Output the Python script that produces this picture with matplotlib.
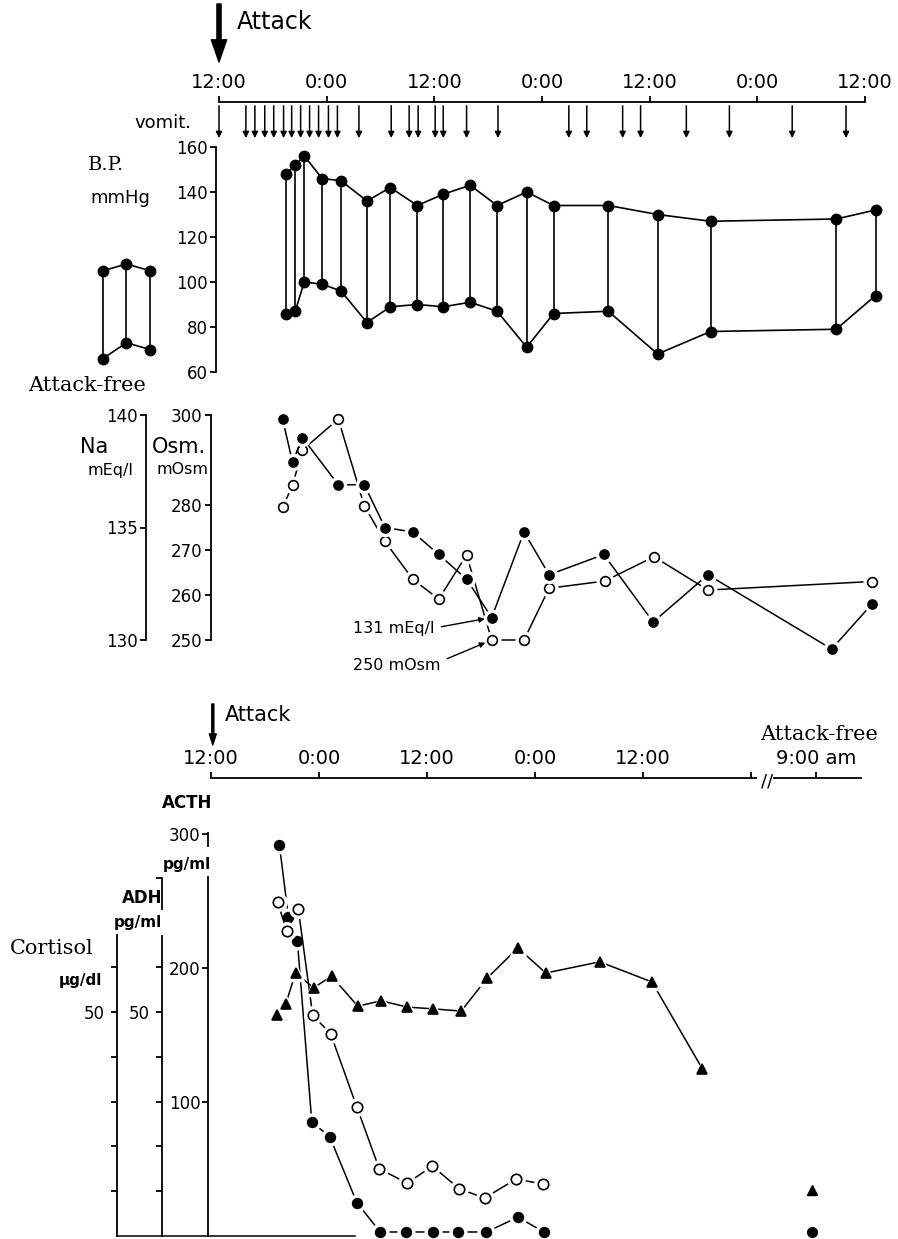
import matplotlib
matplotlib.use('Agg')
import matplotlib.pyplot as plt
import matplotlib.transforms as mtransforms
from matplotlib.lines import Line2D

# ---- data (hours after the attack started at 12:00) ----
vomit_t = [0, 3.0, 4.0, 5.1, 6.1, 7.2, 8.1, 9.1, 10.1, 11.1, 12.2, 13.2, 15.6, 19.2,
           21.2, 22.2, 24.1, 25.0, 27.6, 31.1, 39.0, 41.0, 45.0, 47.0, 52.1, 56.9,
           63.9, 69.9]

bp_t = [7.5, 8.5, 9.5, 11.5, 13.6, 16.5, 19.1, 22.1, 25.0, 28.0, 31.0, 34.3, 37.3,
        43.4, 48.9, 54.8, 68.8, 73.2]
bp_sys = [148, 152, 156, 146, 145, 136, 142, 134, 139, 143, 134, 140, 134, 134, 130,
          127, 128, 132]
bp_dia = [86, 87, 100, 99, 96, 82, 89, 90, 89, 91, 87, 71, 86, 87, 68, 78, 79, 94]
free_sys = [105, 108, 105]
free_dia = [66, 73, 70]

na_t = [7.1, 8.2, 9.3, 13.3, 16.2, 18.5, 21.6, 24.5, 27.6, 30.4, 34.0, 36.8, 42.9,
        48.4, 54.5, 68.3, 72.8]
na = [139.8, 137.9, 139.0, 136.9, 136.9, 135.0, 134.8, 133.8, 132.7, 131.0, 134.8,
      132.9, 133.8, 130.8, 132.9, 129.6, 131.6]
osm_t = [7.1, 8.2, 9.3, 13.3, 16.2, 18.5, 21.6, 24.5, 27.6, 30.4, 34.0, 36.8, 43.0,
         48.5, 54.5, 72.8]
osm = [279.5, 284.4, 292.2, 299.1, 279.8, 271.9, 263.5, 259.1, 268.9, 250, 250,
       261.5, 263.1, 268.5, 261.1, 263]

acth_t = [7.6, 8.6, 9.6, 11.2, 13.2, 16.2, 18.8, 21.7, 24.7, 27.4, 30.6, 34.1, 37.0]
acth = [292, 238, 220, 85, 74, 25, 3, 3, 3, 3, 3, 14, 3]
adh_t = [7.4, 8.4, 9.7, 11.3, 13.3, 16.2, 18.7, 21.8, 24.6, 27.6, 30.4, 33.9, 36.9]
adh = [74.6, 68.1, 73.0, 49.3, 45.1, 28.8, 15.0, 11.8, 15.6, 10.5, 8.5, 12.7, 11.6]
cort_t = [7.3, 8.3, 9.4, 11.4, 13.4, 16.3, 18.9, 21.8, 24.7, 27.8, 30.7, 34.1, 37.2,
          43.2, 49.0, 54.6]
cort = [49.3, 51.8, 58.7, 55.4, 58.0, 51.3, 52.5, 51.1, 50.7, 50.2, 57.6, 64.3, 58.7,
        61.2, 56.7, 37.3]
acth_free = 3
cort_free = 10.3

top_ticks = [0, 12, 24, 36, 48, 60, 72]
top_labels = ['12:00', '0:00', '12:00', '0:00', '12:00', '0:00', '12:00']
bot_labels = ['12:00', '0:00', '12:00', '0:00', '12:00', '', '9:00 am']

# ---- layout ----
W, H = 898, 1239
AF_POS = 67.2           # x position of the attack-free sample on the broken axis
fig = plt.figure(figsize=(W / 100, H / 100), dpi=100)
SERIF = 'DejaVu Serif'
LW = 1.3


def box(x0, y0, x1, y1):
    return [x0 / W, 1 - y1 / H, (x1 - x0) / W, (y1 - y0) / H]


def put(x, y, s, **kw):
    kw.setdefault('va', 'center')
    fig.text(x / W, 1 - y / H, s, **kw)


def time_axes(x0, y0, x1, y1, t0, pxh):
    ax = fig.add_axes(box(x0, y0, x1, y1))
    ax.set_xlim((x0 - t0) / pxh, (x1 - t0) / pxh)
    ax.patch.set_visible(False)
    for s in ax.spines.values():
        s.set_visible(False)
        s.set_linewidth(LW)
    ax.set_xticks([])
    ax.set_yticks([])
    return ax


def left_axis(ax, ticks, labels, pos=None, bounds=None, pad=2):
    ax.spines['left'].set_visible(True)
    if pos is not None:
        ax.spines['left'].set_position(('axes', pos))
    if bounds is not None:
        ax.spines['left'].set_bounds(*bounds)
    ax.yaxis.set_ticks_position('left')
    ax.set_yticks(ticks, labels)
    ax.tick_params(axis='y', direction='out', length=4, width=LW, labelsize=12, pad=pad)


def series(ax, t, v, marker, filled, ms):
    ax.plot(t, v, '-', color='k', lw=1.1, zorder=2, clip_on=False)
    ax.plot(t, v, ls='none', marker=marker, ms=ms + 5, mfc='white', mec='white',
            zorder=3, clip_on=False)
    ax.plot(t, v, ls='none', marker=marker, ms=ms, mfc='k' if filled else 'white',
            mec='k', mew=1.2, zorder=4, clip_on=False)


# ---- top time axis and vomiting ----
axv = time_axes(216, 102, 890, 140, 219, 8.97)
axv.set_ylim(0, 1)
axv.spines['top'].set_visible(True)
axv.spines['top'].set_bounds(0, 72)
axv.xaxis.set_ticks_position('top')
axv.set_xticks(top_ticks, top_labels)
axv.tick_params(axis='x', direction='out', length=4, width=LW, pad=3, labelsize=14)
for t in vomit_t:
    axv.annotate('', xy=(t, 0.05), xytext=(t, 0.9),
                 arrowprops=dict(arrowstyle='-|>', lw=1.1, color='k',
                                 mutation_scale=9, shrinkA=0, shrinkB=0))
axv.annotate('', xy=(0, 78 / 38), xytext=(0, 136 / 38),
             xycoords=('data', 'axes fraction'),
             arrowprops=dict(facecolor='k', edgecolor='k', width=3, headwidth=11,
                             headlength=16, shrink=0))
put(237, 22, 'Attack', fontsize=17)
put(163, 123, 'vomit.', fontsize=13, ha='center')

# ---- blood pressure ----
axbp = time_axes(216, 147, 890, 372, 219, 8.97)
axbp.set_ylim(60, 160)
left_axis(axbp, range(60, 161, 20), [str(v) for v in range(60, 161, 20)])
axbp.vlines(bp_t, bp_dia, bp_sys, color='k', lw=1.2)
for vals in (bp_sys, bp_dia):
    axbp.plot(bp_t, vals, '-o', color='k', lw=1.2, ms=7.5, clip_on=False)

axfree = fig.add_axes(box(90, 147, 165, 372))
axfree.set_ylim(60, 160)
axfree.set_xlim(-0.553, 2.64)
axfree.axis('off')
free_x = range(len(free_sys))
axfree.vlines(free_x, free_dia, free_sys, color='k', lw=1.2)
for vals in (free_sys, free_dia):
    axfree.plot(free_x, vals, '-o', color='k', lw=1.2, ms=7.5, clip_on=False)

put(106, 165, 'B.P.', fontsize=14, ha='center', family=SERIF)
put(120, 198, 'mmHg', fontsize=13, ha='center')
put(87, 386, 'Attack-free', fontsize=15, ha='center', family=SERIF)

# ---- sodium / osmolality ----
axosm = time_axes(211, 415, 890, 640, 219, 8.97)
axosm.set_ylim(250, 300)
left_axis(axosm, [250, 260, 270, 280, 300], ['250', '260', '270', '280', '300'])
axna = axosm.twinx()
for s in axna.spines.values():
    s.set_visible(False)
    s.set_linewidth(LW)
axna.set_ylim(130, 140)
left_axis(axna, [130, 135, 140], ['130', '135', '140'], pos=(146 - 211) / (890 - 211))

series(axosm, osm_t, osm, 'o', False, 7)
series(axna, na_t, na, 'o', True, 6.5)

put(94, 447, 'Na', fontsize=15, ha='center')
put(110, 470, 'mEq/l', fontsize=11.5, ha='center')
put(179, 447, 'Osm.', fontsize=15, ha='center')
put(182, 470, 'mOsm', fontsize=11.5, ha='center')

axna.annotate('131 mEq/l', xy=(na_t[9], na[9]), xytext=(353 / W, 1 - 628 / H),
              textcoords='figure fraction', fontsize=11.5, ha='left', va='center',
              arrowprops=dict(arrowstyle='-|>', lw=1.0, color='k', mutation_scale=8,
                              shrinkA=3, shrinkB=5, relpos=(1, 0.5)))
axosm.annotate('250 mOsm', xy=(osm_t[9], osm[9]), xytext=(353 / W, 1 - 666 / H),
               textcoords='figure fraction', fontsize=11.5, ha='left', va='center',
               arrowprops=dict(arrowstyle='-|>', lw=1.0, color='k', mutation_scale=8,
                               shrinkA=3, shrinkB=5, relpos=(1, 0.8)))

# ---- bottom time axis ----
axt2 = time_axes(208, 778, 890, 788, 211, 9.0)
axt2.set_ylim(0, 1)
axt2.spines['top'].set_visible(True)
axt2.spines['top'].set_bounds(0, 60.5)
axt2.xaxis.set_ticks_position('top')
axt2.set_xticks([0, 12, 24, 36, 48, 60, AF_POS], bot_labels)
axt2.tick_params(axis='x', direction='out', length=4, width=LW, pad=3, labelsize=14)
blend = mtransforms.blended_transform_factory(axt2.transData, axt2.transAxes)
axt2.plot([62.6, 72.2], [1, 1], color='k', lw=LW, transform=blend, clip_on=False)
axt2.text(61.8, 0.6, '//', transform=blend, fontsize=13, ha='center', va='center')
axt2.annotate('', xy=(0.2, 4.3), xytext=(0.2, 8.4), xycoords=('data', 'axes fraction'),
              arrowprops=dict(facecolor='k', edgecolor='k', width=1.5, headwidth=5,
                              headlength=8, shrink=0))
put(225, 715, 'Attack', fontsize=15)
put(819, 734, 'Attack-free', fontsize=15, ha='center', family=SERIF)

# ---- hormones ----
axh = time_axes(208, 834, 890, 1236, 211, 9.0)
axh.set_ylim(0, 300)
left_axis(axh, [100, 200, 300], ['100', '200', '300'], bounds=(0, 268), pad=1.5)
axh.plot([0, 0], [291, 301], color='k', lw=LW, clip_on=False,
         transform=mtransforms.blended_transform_factory(axh.transAxes, axh.transData))

adh_top = 402 * 50 / 224
axadh = axh.twinx()
axcort = axh.twinx()
for ax in (axadh, axcort):
    for s in ax.spines.values():
        s.set_visible(False)
        s.set_linewidth(LW)
    ax.set_ylim(0, adh_top)
left_axis(axadh, [10, 20, 30, 40, 50, 60, 80], ['', '', '', '', '50', '', ''],
          pos=(162 - 208) / 682, bounds=(0, 67), pad=5)
axadh.plot([0, 0], [73, 80], color='k', lw=LW, clip_on=False,
           transform=mtransforms.blended_transform_factory(
               axadh.spines['left'].get_spine_transform(), axadh.transData))
left_axis(axcort, [10, 20, 30, 40, 50, 60], ['', '', '', '', '50', ''],
          pos=(117 - 208) / 682, bounds=(0, 67.2), pad=5)

series(axh, acth_t, acth, 'o', True, 7)
series(axadh, adh_t, adh, 'o', False, 7.5)
series(axcort, cort_t, cort, '^', True, 7)
axh.plot([AF_POS - 0.4], [acth_free], 'o', color='k', ms=7, clip_on=False)
axcort.plot([AF_POS - 0.4], [cort_free], '^', color='k', ms=7, clip_on=False)

fig.add_artist(Line2D([117 / W, 355 / W], [1 - 1236 / H] * 2, color='k', lw=1.1))

put(187, 803, 'ACTH', fontsize=12, ha='center', weight='bold')
put(187, 865, 'pg/ml', fontsize=11, ha='center', weight='bold')
put(142, 898, 'ADH', fontsize=12, ha='center', weight='bold')
put(138, 923, 'pg/ml', fontsize=11, ha='center', weight='bold')
put(52, 949, 'Cortisol', fontsize=15, ha='center', family=SERIF)
put(80, 980, 'µg/dl', fontsize=11, ha='center', weight='bold')

fig.savefig('out.png', dpi=100, facecolor='white')
